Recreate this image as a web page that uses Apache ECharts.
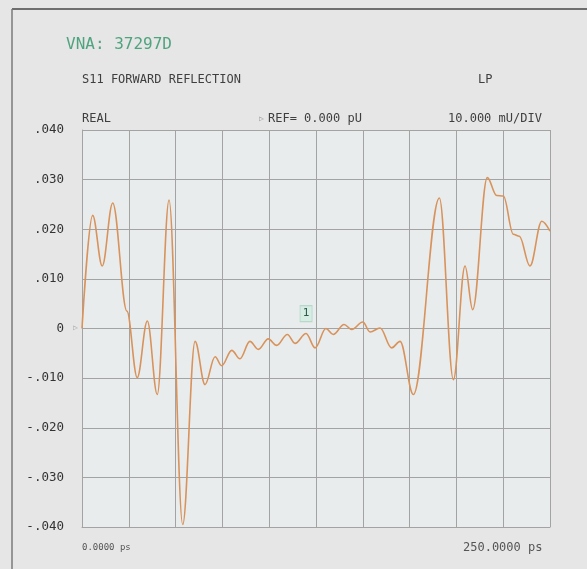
<!DOCTYPE html>
<html>
<head>
<meta charset="utf-8">
<script src="https://cdn.jsdelivr.net/npm/echarts@6/dist/echarts.min.js"></script>
<style>
  html, body { margin: 0; padding: 0; background: #e6e6e6; }
  #chart { width: 587px; height: 569px; }
</style>
</head>
<body>
<div id="chart"></div>
<script>
// S11 time-domain trace, real part (units), vs time in ps
const timePs = [0, 5.7, 10.8, 16.4, 24.0, 29.5, 34.9, 40.2, 46.5, 53.8,
  60.4, 65.7, 71.1, 74.6, 80.0, 84.4, 89.7, 94.2, 99.5, 104.0,
  109.7, 113.8, 119.7, 124.5, 130.3, 134.2, 140.0, 144.1, 150.0, 153.9,
  159.2, 165.4, 169.9, 177.0, 190.9, 198.4, 204.6, 208.7, 216.5, 221.5,
  225.1, 230.4, 233.6, 239.3, 245.6, 250];
const realU = [0.0000, 0.0228, 0.0126, 0.0253, 0.0035, -0.0099, 0.0015, -0.0133, 0.0259, -0.0395,
  -0.0026, -0.0113, -0.0057, -0.0075, -0.0044, -0.0061, -0.0026, -0.0042, -0.0021, -0.0034,
  -0.0012, -0.0030, -0.0010, -0.0039, 0.0000, -0.0012, 0.0008, -0.0002, 0.0013, -0.0007,
  0.0001, -0.0039, -0.0026, -0.0133, 0.0263, -0.0103, 0.0126, 0.0038, 0.0304, 0.0268,
  0.0267, 0.0190, 0.0186, 0.0126, 0.0216, 0.0196];

// tick labels from bottom to top
const yTickLabels = ['-.040', '-.030', '-.020', '-.010', '0', '.010', '.020', '.030', '.040'];
const xStartLabel = '0.0000 ps';
const xStopLabel = '250.0000 ps';

// marker 1 position (ps, units)
const marker1 = [119.7, 0.0030];

const MONO = '"DejaVu Sans Mono", "Liberation Mono", monospace';
const GRID_COLOR = '#a3a3a3';
const TEXT_COLOR = '#3f3f3f';

const chart = echarts.init(document.getElementById('chart'), null, { renderer: 'canvas' });

chart.setOption({
  backgroundColor: '#e6e6e6',
  animation: false,
  grid: {
    left: 82, top: 130, width: 468, height: 397,
    show: true, backgroundColor: '#e9eced', borderWidth: 0
  },
  xAxis: {
    type: 'value', min: 0, max: 250, interval: 25,
    axisLine: { show: true, onZero: false, lineStyle: { color: GRID_COLOR, width: 1 } },
    axisTick: { show: false },
    axisLabel: { show: false },
    splitLine: { show: true, lineStyle: { color: GRID_COLOR, width: 1 } }
  },
  yAxis: {
    type: 'value', min: -0.04, max: 0.04, interval: 0.01,
    axisLine: { show: true, onZero: false, lineStyle: { color: GRID_COLOR, width: 1 } },
    axisTick: { show: false },
    axisLabel: {
      margin: 18, color: '#333', fontSize: 12.5, fontFamily: MONO,
      formatter: (v, i) => yTickLabels[i] !== undefined ? yTickLabels[i] : ''
    },
    splitLine: { show: true, lineStyle: { color: GRID_COLOR, width: 1 } }
  },
  series: [{
    type: 'line',
    data: timePs.map((t, i) => [t, realU[i]]),
    smooth: 0.36,
    smoothMonotone: 'x',
    showSymbol: false,
    symbol: 'none',
    lineStyle: { color: '#d8935c', width: 1.6 },
    markPoint: {
      symbol: 'rect',
      symbolSize: [12, 16],
      itemStyle: { color: '#d6ede4', borderColor: '#b8d8cc', borderWidth: 1 },
      label: { show: true, formatter: '1', color: '#2f5a4a', fontSize: 11, fontFamily: MONO },
      data: [{ coord: marker1 }]
    }
  }],
  graphic: [
    // instrument frame
    { type: 'line', shape: { x1: 12, y1: 9, x2: 587, y2: 9 }, style: { stroke: '#6e6e6e', lineWidth: 2 } },
    { type: 'line', shape: { x1: 12, y1: 9, x2: 12, y2: 569 }, style: { stroke: '#7a7a7a', lineWidth: 1.5 } },
    // header
    { type: 'text', left: 66, top: 37, style: { text: 'VNA: 37297D', fill: '#4fa47f', font: '16px ' + MONO } },
    { type: 'text', left: 82, top: 74, style: { text: 'S11 FORWARD REFLECTION', fill: TEXT_COLOR, font: '12px ' + MONO } },
    { type: 'text', left: 478, top: 74, style: { text: 'LP', fill: TEXT_COLOR, font: '12px ' + MONO } },
    { type: 'text', left: 82, top: 113, style: { text: 'REAL', fill: TEXT_COLOR, font: '12px ' + MONO } },
    { type: 'text', left: 259, top: 115, style: { text: '\u25B7', fill: '#9a9a9a', font: '8px ' + MONO } },
    { type: 'text', left: 268, top: 113, style: { text: 'REF= 0.000 pU', fill: TEXT_COLOR, font: '12px ' + MONO } },
    { type: 'text', left: 448, top: 113, style: { text: '10.000 mU/DIV', fill: TEXT_COLOR, font: '12px ' + MONO } },
    // reference level marker on the zero line
    { type: 'text', left: 73, top: 324, style: { text: '\u25B7', fill: '#a8a8a8', font: '8px ' + MONO } },
    // start / stop time
    { type: 'text', left: 82, top: 543, style: { text: xStartLabel, fill: '#555', font: '9px ' + MONO } },
    { type: 'text', left: 463, top: 542, style: { text: xStopLabel, fill: '#555', font: '12px ' + MONO } }
  ]
});
</script>
</body>
</html>
